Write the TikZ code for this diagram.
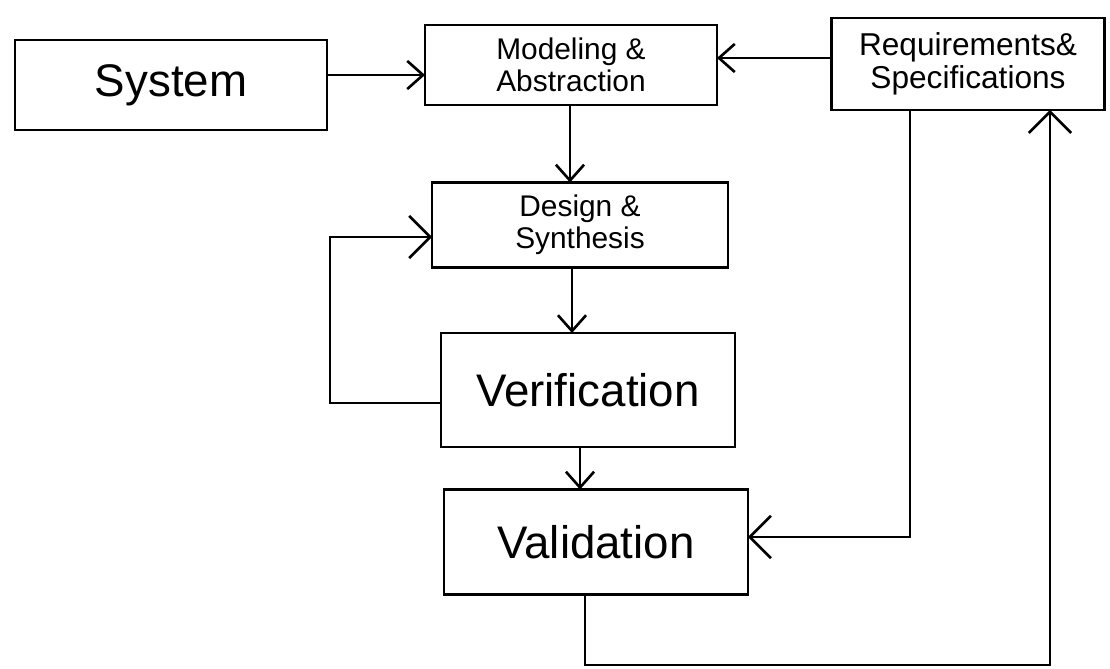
\documentclass[tikz,border=0pt]{standalone}
\usepackage{fontspec}
\setmainfont{Liberation Sans}
\usetikzlibrary{arrows.meta}
\begin{document}
\begin{tikzpicture}[x=0.02cm,y=-0.02cm,
  box/.style={draw,line width=1.5pt,inner sep=0pt,outer sep=0pt,align=center},
  arr/.style={line width=1.5pt,-{Straight Barb[length=9pt,width=16pt,line width=1.5pt]}},
  bigarr/.style={line width=1.5pt,-{Straight Barb[length=12pt,width=24pt,line width=1.5pt]}},
  small/.style={font=\fontsize{17}{18}\selectfont},
  large/.style={font=\fontsize{26}{30}\selectfont}]
\useasboundingbox (0,0) rectangle (1110,669);
\node[box,large,minimum width=6.24cm,minimum height=1.8cm] (sys) at (171,85) {System};
\node[box,small,minimum width=5.84cm,minimum height=1.6cm] (mod) at (571,65) {Modeling \&\\Abstraction};
\node[box,small,minimum width=5.46cm,minimum height=1.84cm,font=\fontsize{18}{19}\selectfont] (req) at (968,64) {Requirements\&\\Specifications};
\node[box,small,minimum width=5.92cm,minimum height=1.7cm] (des) at (580,225) {Design \&\\Synthesis};
\node[box,large,minimum width=5.88cm,minimum height=2.28cm] (ver) at (588,390) {Verification};
\node[box,large,minimum width=6.08cm,minimum height=2.1cm] (val) at (596,542) {Validation};
\coordinate (loopA) at (330,403);
\coordinate (loopB) at (330,237);
\coordinate (rvA) at (910,537);
\coordinate (backA) at (585,665);
\coordinate (backB) at (1050,665);
\draw[arr] (sys.east |- 0,75) -- (mod.west |- 0,75);
\draw[arr] (req.west |- 0,58) -- (mod.east |- 0,58);
\draw[arr] (mod.south -| 570,0) -- (des.north -| 570,0);
\draw[arr] (des.south -| 572,0) -- (ver.north -| 572,0);
\draw[arr] (ver.south -| 580,0) -- (val.north -| 580,0);
\draw[bigarr] (ver.west |- loopA) -- (loopA) -- (loopB) -- (des.west |- loopB);
\draw[bigarr] (req.south -| rvA) -- (rvA) -- (val.east |- rvA);
\draw[bigarr] (val.south -| backA) -- (backA) -- (backB) -- (req.south -| backB);
\end{tikzpicture}
\end{document}
